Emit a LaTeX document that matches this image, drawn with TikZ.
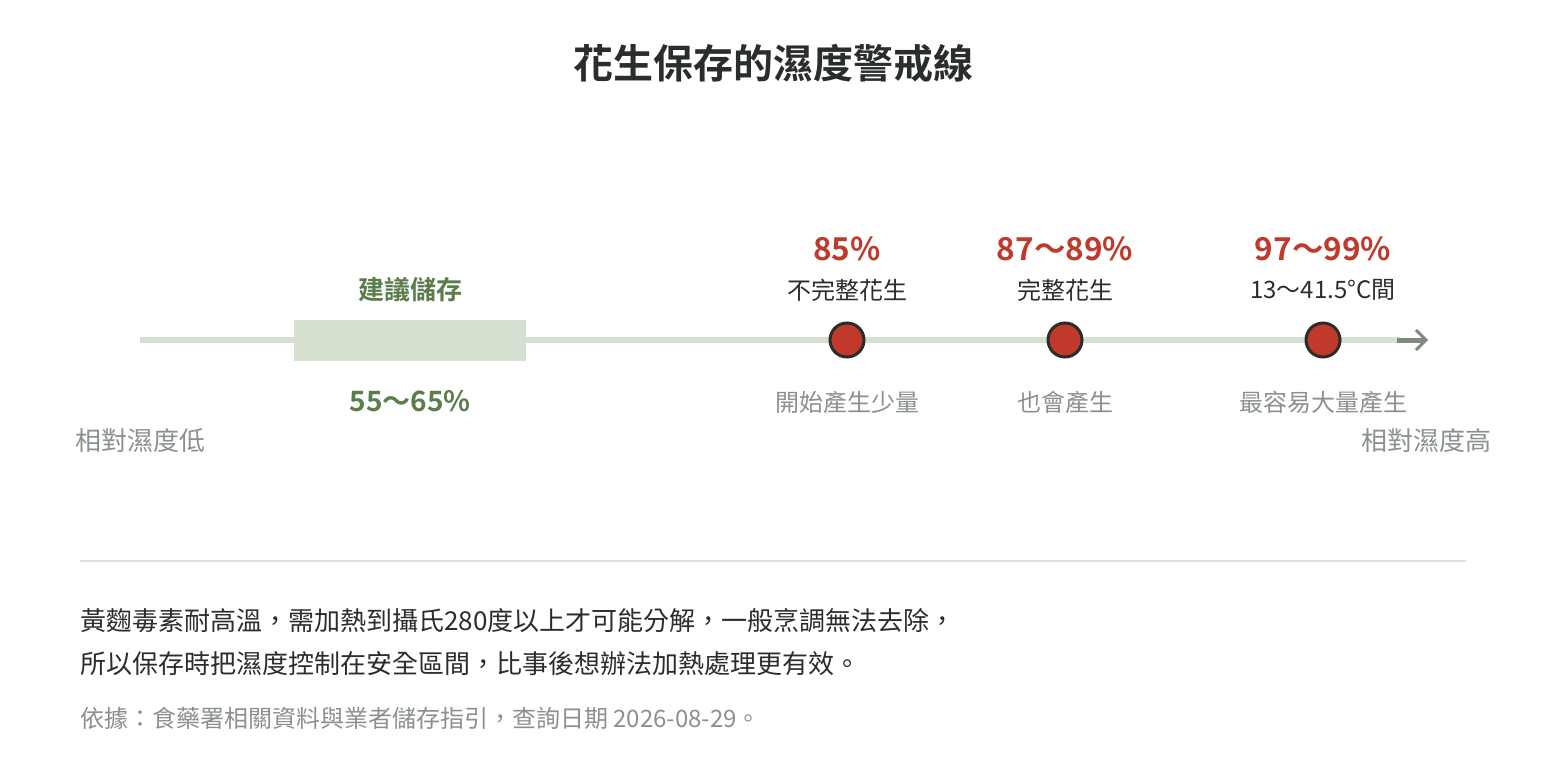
\documentclass[tikz,border=0pt]{standalone}
\usepackage{fontspec}
\setmainfont{Noto Sans CJK TC}[BoldFont={Noto Sans CJK TC Bold}]
\usetikzlibrary{arrows.meta,positioning}
\definecolor{riskred}{HTML}{C0392B}
\definecolor{inkdark}{HTML}{2A2E2A}
\definecolor{safegreen}{HTML}{5A7D4A}
\definecolor{safebar}{HTML}{D5E0D0}
\definecolor{axisgray}{HTML}{7F8A7F}
\definecolor{notegray}{HTML}{8A918A}
\definecolor{rulegray}{HTML}{DDE3D8}
\tikzset{>=latex}
\tikzset{
  riskdot/.style={circle, draw=inkdark, line width=3pt, fill=riskred, minimum size=34pt, inner sep=0pt},
  pct/.style={text=riskred, font=\fontsize{31.5}{36}\selectfont\bfseries, inner sep=0pt},
  what/.style={text=inkdark, font=\fontsize{24}{29}\selectfont, inner sep=0pt},
  effect/.style={text=notegray, font=\fontsize{24}{29}\selectfont, inner sep=0pt},
  endlabel/.style={text=notegray, font=\fontsize{26}{31}\selectfont, inner sep=0pt},
  body/.style={text=inkdark, font=\fontsize{26}{32}\selectfont, inner sep=0pt, anchor=west},
}

\begin{document}
\begin{tikzpicture}[x=1pt,y=-1pt]
      \useasboundingbox (0,0) rectangle (1546,760);
      \node[text=inkdark, font=\fontsize{40}{48}\selectfont\bfseries, inner sep=0pt] (title) at (773,63) {花生保存的濕度警戒線};
      % axis
      \coordinate (lo) at (140,340);
      \coordinate (hi) at (1400,340);
      \coordinate (tip) at (1428,340);
      \draw[safebar, line width=6pt] (lo) -- (hi);
      \draw[axisgray, line width=5pt, -{Straight Barb[length=10pt, width=20pt, line width=3pt]}] (1397,340) -- (tip);
      % safe range
      \node[fill=safebar, minimum width=232pt, minimum height=41pt, inner sep=0pt] (safe) at (410,340.5) {};
      \node[text=safegreen, font=\fontsize{26}{31}\selectfont\bfseries, inner sep=0pt] (safetag) at (410,290) {建議儲存};
      \node[text=safegreen, font=\fontsize{28}{33}\selectfont\bfseries, inner sep=0pt] (safepct) at (410,401) {55～65\%};
      % risk points
      \node[riskdot] (r1) at (847,340) {};
      \node[riskdot] (r2) at (1065,340) {};
      \node[riskdot] (r3) at (1323,340) {};
      \node[pct] (p1) at (847,249) {85\%};
      \node[pct] (p2) at (1065,249) {87～89\%};
      \node[pct] (p3) at (1323,249) {97～99\%};
      \node[what] (w1) at (847,290) {不完整花生};
      \node[what] (w2) at (1065,290) {完整花生};
      \node[what] (w3) at (1323,290) {13～41.5°C間};
      \node[effect] (e1) at (847,402) {開始產生少量};
      \node[effect] (e2) at (1065,402) {也會產生};
      \node[effect] (e3) at (1323,402) {最容易大量產生};
      % ends
      \node[endlabel] (lowend) at (140,441) {相對濕度低};
      \node[endlabel] (highend) at (1426,441) {相對濕度高};
      % note
      \coordinate (ruleL) at (80,561);
      \coordinate (ruleR) at (1466,561);
      \draw[rulegray, line width=2pt] (ruleL) -- (ruleR);
      \node[body] (line1) at (80,621) {黃麴毒素耐高溫，需加熱到攝氏280度以上才可能分解，一般烹調無法去除，};
      \node[body] (line2) at (80,664) {所以保存時把濕度控制在安全區間，比事後想辦法加熱處理更有效。};
      \node[body, text=notegray, font=\fontsize{24}{29}\selectfont] (source) at (80,718) {依據：食藥署相關資料與業者儲存指引，查詢日期 2026-08-29。};
    \end{tikzpicture}
\end{document}
